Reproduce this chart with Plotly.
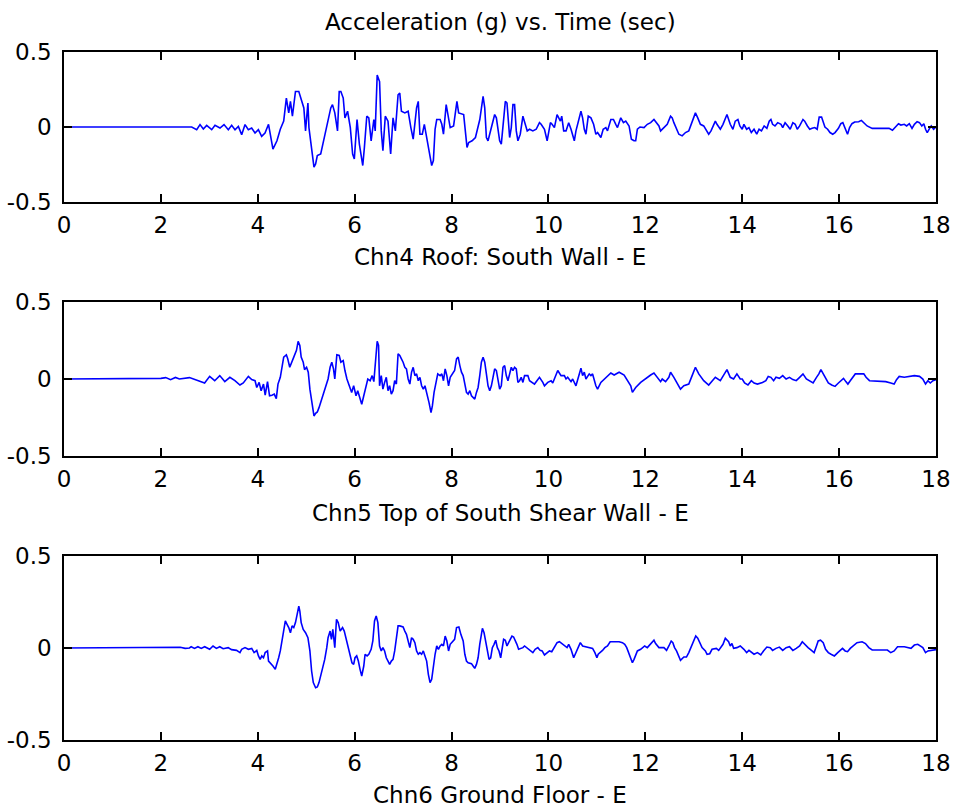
import plotly.graph_objects as go

# ---------------- data ----------------
x_ticks = [0, 2, 4, 6, 8, 10, 12, 14, 16, 18]
y_ticks = [-0.5, 0, 0.5]
y_tick_text = ["-0.5", "0", "0.5"]

main_title = "Acceleration (g) vs. Time (sec)"
channel_labels = ["Chn4 Roof: South Wall - E",
                  "Chn5 Top of South Shear Wall - E",
                  "Chn6 Ground Floor - E"]

t_ch4 = [0, 2.636, 2.739, 2.808, 2.876, 2.945, 3.049, 3.117, 3.220, 3.303, 3.392, 3.461, 3.530, 3.599, 3.668, 3.737, 3.805, 3.874, 3.943, 4.012, 4.080, 4.149,
         4.222, 4.313, 4.396, 4.465, 4.535, 4.590, 4.639, 4.674, 4.715, 4.778, 4.847, 4.882, 4.951, 4.986, 5.035, 5.056, 5.111, 5.160, 5.194, 5.229,
         5.299, 5.368, 5.438, 5.507, 5.542, 5.590, 5.646, 5.681, 5.715, 5.764, 5.799, 5.854, 5.910, 5.958, 5.993, 6.049, 6.097, 6.167, 6.201, 6.250,
         6.292, 6.340, 6.396, 6.424, 6.465, 6.514, 6.549, 6.583, 6.632, 6.688, 6.743, 6.792, 6.840, 6.896, 6.931, 6.965, 7.035, 7.104, 7.160, 7.208,
         7.278, 7.313, 7.347, 7.396, 7.438, 7.486, 7.535, 7.590, 7.625, 7.660, 7.694, 7.764, 7.799, 7.833, 7.889, 7.938, 7.972, 8.042, 8.111, 8.146,
         8.250, 8.319, 8.354, 8.424, 8.493, 8.583,
         8.651, 8.685, 8.719, 8.753, 8.808, 8.856, 8.890, 8.925, 8.959, 8.993, 9.027, 9.062, 9.110, 9.144, 9.164, 9.199, 9.233, 9.267, 9.301, 9.336,
         9.370, 9.418, 9.473, 9.507, 9.562, 9.610, 9.678, 9.747, 9.815, 9.849, 9.884, 9.918, 9.973, 10.000, 10.041, 10.075, 10.123, 10.178, 10.212, 10.247,
         10.274, 10.315, 10.363, 10.418, 10.466, 10.500, 10.534, 10.568, 10.616, 10.671, 10.705, 10.740, 10.774, 10.822, 10.877, 10.932, 10.979, 11.014, 11.082, 11.130,
         11.185, 11.219, 11.288, 11.342, 11.390, 11.425, 11.493, 11.548, 11.596, 11.664, 11.712, 11.767, 11.801, 11.836, 11.890, 11.973, 12.041, 12.110, 12.178, 12.233,
         12.281, 12.315, 12.384, 12.452, 12.521, 12.555, 12.589, 12.644, 12.692, 12.760, 12.829, 12.897, 12.932, 12.979, 13.034, 13.082, 13.137, 13.205, 13.240, 13.308,
         13.356, 13.411, 13.445, 13.479, 13.548, 13.603, 13.651, 13.685, 13.753, 13.808, 13.856, 13.911,
         13.951, 14.000, 14.035, 14.091, 14.139, 14.188, 14.244, 14.300, 14.348, 14.397, 14.453, 14.509, 14.557, 14.592, 14.627, 14.676, 14.732, 14.801, 14.836, 14.885,
         14.941, 14.990, 15.045, 15.094, 15.136, 15.185, 15.254, 15.289, 15.345, 15.394, 15.443, 15.498, 15.547, 15.589, 15.638, 15.672, 15.707, 15.763, 15.812, 15.868,
         15.916, 15.986, 16.035, 16.077, 16.125, 16.174, 16.216, 16.265, 16.321, 16.404, 16.460, 16.509, 16.578, 16.683, 17.031, 17.101, 17.171, 17.226, 17.275, 17.345,
         17.394, 17.449, 17.505, 17.554, 17.610, 17.659, 17.707, 17.749, 17.784, 17.819, 17.868, 17.902, 17.951, 18.0]
acc_ch4 = [0, 0, -0.018, 0.016, -0.013, 0.011, -0.018, 0.011, -0.007, 0.016, -0.018, 0.011, -0.018, 0.004, -0.051, 0.016, -0.018, -0.007, -0.040, -0.018, -0.062, -0.040,
           0.018, -0.147, -0.092, -0.015, 0.039, 0.193, 0.094, 0.171, 0.072, 0.237, 0.237, 0.204, 0.127, -0.026, 0.160, -0.004, -0.136, -0.268, -0.246, -0.191,
           -0.180, -0.070, 0.039, 0.127, 0.149, 0.094, -0.026, 0.237, 0.237, 0.193, 0.061, 0.105, -0.004, -0.180, -0.213, 0.050, -0.114, -0.257, -0.136, 0.072,
           0.061, -0.092, 0.050, -0.026, 0.346, 0.303, -0.026, -0.158, 0.072, 0.039, -0.180, 0.061, -0.026, 0.215, 0.226, 0.105, 0.094, 0.105, -0.004, -0.081,
           0.127, 0.171, -0.048, -0.048, 0.018, -0.070, -0.158, -0.257, -0.224, -0.015, 0.050, 0.050, 0.018, -0.048, 0.149, 0.050, -0.004, 0.007, 0.171, 0.094,
           0.083, -0.136, -0.103, -0.092, -0.070, 0.050,
           0.204, 0.127, -0.070, -0.092, -0.026, 0.039, 0.083, 0.061, -0.004, -0.092, -0.114, -0.004, 0.171, 0.160, 0.061, -0.070, -0.004, 0.149, 0.149, -0.026,
           -0.092, -0.048, 0.072, 0.039, -0.026, -0.015, -0.026, -0.015, 0.029, 0.018, -0.004, -0.015, -0.092, -0.048, 0.029, 0.018, -0.004, 0.083, 0.061, 0.039,
           0.072, -0.026, -0.026, 0.029, -0.015, -0.059, -0.092, -0.026, 0.039, 0.105, 0.061, -0.015, -0.048, 0.072, 0.061, 0.018, -0.048, -0.037, -0.070, -0.015,
           -0.004, -0.026, 0.050, 0.050, 0.018, -0.004, 0.061, 0.029, 0.039, 0.007, -0.081, -0.092, -0.092, -0.015, 0.000, -0.004, 0.018, 0.029, 0.050, 0.029,
           0.007, -0.026, 0.000, 0.018, 0.072, 0.061, 0.029, -0.015, -0.048, -0.059, -0.037, -0.026, 0.007, 0.050, 0.094, 0.061, 0.018, 0.007, -0.015, -0.048,
           -0.026, 0.018, 0.039, 0.018, -0.015, 0.018, 0.061, 0.083, 0.018, -0.015, 0.039, 0.050,
           0.007, -0.015, 0.018, -0.015, -0.004, -0.037, -0.015, -0.048, -0.015, -0.026, 0.007, -0.009, 0.039, 0.050, 0.018, 0.007, 0.029, 0.018, -0.004, 0.029,
           0.007, -0.015, 0.029, 0.018, -0.015, 0.007, 0.050, 0.039, 0.007, -0.015, -0.009, -0.004, -0.015, 0.066, 0.066, 0.039, 0.000, -0.015, -0.037, -0.048,
           -0.037, -0.009, 0.022, 0.029, -0.015, -0.048, -0.004, 0.022, 0.033, 0.035, 0.044, 0.029, 0.007, -0.009, -0.009, -0.022, 0.000, 0.022, 0.013, 0.018,
           0.007, 0.022, -0.009, 0.018, 0.035, 0.029, 0.007, 0.022, -0.015, -0.037, -0.009, 0.007, -0.015, 0.0]

t_ch5 = [0, 1.0, 1.02, 2.0, 2.1, 2.2, 2.3,
         2.382, 2.590, 2.799, 2.903, 3.007, 3.111, 3.215, 3.319, 3.424, 3.528, 3.632, 3.701, 3.806, 3.875, 3.944, 3.979, 4.028, 4.069, 4.118, 4.153,
         4.201, 4.243, 4.292, 4.340, 4.382, 4.417, 4.465, 4.500, 4.535, 4.590, 4.618, 4.660, 4.708, 4.743, 4.799, 4.833, 4.868, 4.896, 4.938, 4.965,
         5.007, 5.042, 5.076, 5.111, 5.160, 5.194, 5.229, 5.264, 5.299, 5.354, 5.403, 5.451, 5.493, 5.528, 5.563, 5.590, 5.632, 5.681, 5.715, 5.764,
         5.799, 5.840, 5.889, 5.938, 5.979, 6.028, 6.063, 6.097, 6.146, 6.188, 6.236, 6.271, 6.319, 6.361, 6.396, 6.431, 6.465, 6.493, 6.514, 6.549,
         6.583, 6.618, 6.653, 6.688, 6.722, 6.757, 6.792, 6.826, 6.861, 6.896, 6.931, 6.965, 7.000, 7.035, 7.069, 7.104, 7.139, 7.174, 7.208, 7.243,
         7.278, 7.313, 7.347, 7.382, 7.417, 7.451, 7.486, 7.535, 7.576, 7.604, 7.639, 7.674, 7.715, 7.764, 7.799, 7.833, 7.868, 7.903, 7.938, 7.972,
         8.021, 8.063,
         8.103, 8.137, 8.171, 8.205, 8.240, 8.274, 8.308, 8.342, 8.377, 8.411, 8.445, 8.479, 8.514, 8.548, 8.582, 8.616, 8.651, 8.685, 8.719, 8.753,
         8.788, 8.822, 8.856, 8.890, 8.925, 8.959, 8.993, 9.027, 9.062, 9.096, 9.130, 9.164, 9.199, 9.233, 9.267, 9.301, 9.336, 9.370, 9.404, 9.438,
         9.473, 9.507, 9.575, 9.610, 9.712, 9.781, 9.815, 9.884, 9.918, 9.986, 10.055, 10.089, 10.158, 10.192, 10.260, 10.329, 10.363, 10.397, 10.466, 10.500,
         10.568, 10.637, 10.671, 10.705, 10.740, 10.774, 10.842, 10.877, 10.911, 10.979, 11.014, 11.082, 11.185, 11.288, 11.356, 11.459, 11.562, 11.630, 11.699, 11.733,
         11.801, 11.904, 12.007, 12.110, 12.178, 12.247, 12.315, 12.349, 12.418, 12.486, 12.521, 12.589, 12.658, 12.726, 12.795, 12.897, 12.966, 13.034, 13.103, 13.205,
         13.308, 13.377, 13.445, 13.548, 13.616, 13.685, 13.753, 13.822, 13.890, 13.959,
         14.000, 14.049, 14.118, 14.188, 14.244, 14.314, 14.418, 14.488, 14.537, 14.592, 14.648, 14.697, 14.767, 14.836, 14.906, 14.976, 15.045, 15.115, 15.185, 15.254,
         15.324, 15.394, 15.463, 15.533, 15.582, 15.624, 15.672, 15.721, 15.777, 15.847, 15.916, 15.986, 16.042, 16.091, 16.139, 16.181, 16.230, 16.279, 16.334, 16.509,
         16.557, 16.627, 16.822, 16.962, 17.066, 17.136, 17.185, 17.240, 17.345, 17.449, 17.554, 17.659, 17.728, 17.784, 17.833, 17.882, 17.937, 18.000]
acc_ch5 = [0, 0, 0.004, 0.004, 0.009, -0.004, 0.010,
           0, 0.009, -0.017, -0.026, 0.017, -0.011, 0.022, -0.017, 0.011, -0.011, -0.039, -0.026, 0.017, -0.004, -0.011, -0.055, -0.022, -0.076, -0.033, -0.105,
           -0.017, -0.109, -0.105, -0.098, -0.127, -0.033, 0.011, 0.076, 0.142, 0.157, 0.131, 0.076, 0.120, 0.142, 0.186, 0.245, 0.218, 0.142, 0.109, 0.061,
           0.076, 0.044, -0.066, -0.153, -0.240, -0.223, -0.214, -0.186, -0.153, -0.098, -0.055, 0, 0.076, 0.109, 0.066, 0, 0.157, 0.153, 0.109, 0.120,
           0.055, 0, -0.044, -0.087, -0.044, -0.109, -0.076, -0.120, -0.164, -0.109, -0.033, 0, -0.011, 0.022, -0.017, 0.109, 0.245, 0.218, -0.044, 0.022,
           -0.066, -0.022, 0.011, -0.076, -0.044, -0.098, -0.076, -0.011, -0.033, 0.164, 0.153, 0.131, 0.109, 0.076, 0.066, 0, -0.033, 0.044, 0.076, 0.022,
           0.033, -0.011, 0.011, -0.044, -0.066, -0.044, -0.087, -0.153, -0.218, -0.175, -0.087, -0.022, 0.033, 0.022, 0.033, -0.011, 0.066, 0.022, -0.044, 0.011,
           0.033, 0.055,
           0.131, 0.142, 0.087, 0.044, 0.022, -0.033, -0.087, -0.098, -0.076, -0.109, -0.120, -0.131, -0.087, -0.055, 0.022, 0.109, 0.142, 0.109, 0.033, -0.044,
           -0.076, -0.044, 0.011, 0.066, 0.055, 0, -0.066, -0.044, 0.076, 0.087, 0.022, -0.011, 0.044, 0.076, 0.055, 0.076, 0.066, -0.022, -0.011, 0.011,
           -0.022, 0.022, 0.022, -0.011, -0.033, -0.004, 0.011, -0.022, -0.044, -0.022, -0.011, -0.026, 0.022, 0.055, 0.022, 0.022, 0, 0.011, -0.017, 0,
           -0.044, 0.022, 0.070, 0.022, 0.044, 0, 0.033, 0.022, 0.033, -0.044, -0.066, -0.022, 0.011, 0.039, 0.026, 0.044, 0.026, -0.011, -0.044, -0.087,
           -0.055, -0.022, 0.004, 0.026, 0.039, 0.011, -0.017, 0, -0.017, 0.011, 0.044, 0.011, -0.033, -0.066, -0.044, -0.033, 0.022, 0.076, 0.033, -0.011,
           -0.039, -0.017, 0.011, -0.011, 0.022, 0.061, 0.011, 0, 0.033, 0,
           0, -0.026, -0.039, -0.011, -0.026, -0.033, -0.022, -0.011, 0.017, 0.011, -0.011, 0.011, 0.004, 0.022, 0, 0.011, -0.004, -0.011, 0.011, 0.033,
           0, -0.011, -0.026, 0.011, 0.033, 0.061, 0.033, 0, -0.026, -0.039, -0.048, -0.026, -0.011, 0.004, -0.017, -0.033, -0.011, 0.011, 0.033, 0.033,
           0.011, -0.011, -0.017, -0.017, -0.026, -0.033, -0.004, 0.017, 0.011, 0.017, 0.022, 0.017, 0, -0.033, -0.011, -0.026, -0.011, -0.004]

t_ch6 = [0, 2.3, 2.4, 2.5, 2.590,
         2.625, 2.694, 2.764, 2.833, 2.903, 3.007, 3.076, 3.146, 3.215, 3.285, 3.389, 3.458, 3.563, 3.632, 3.667, 3.736, 3.806, 3.875, 3.924, 3.979,
         4.014, 4.049, 4.083, 4.118, 4.153, 4.201, 4.222, 4.257, 4.313, 4.361, 4.396, 4.431, 4.465, 4.500, 4.535, 4.569, 4.604, 4.639, 4.674, 4.708,
         4.743, 4.778, 4.813, 4.847, 4.868, 4.896, 4.938, 4.986, 5.035, 5.076, 5.111, 5.146, 5.194, 5.229, 5.264, 5.299, 5.333, 5.382, 5.424, 5.451,
         5.493, 5.521, 5.549, 5.590, 5.625, 5.660, 5.701, 5.750, 5.785, 5.819, 5.854, 5.910, 5.944, 5.979, 6.007, 6.042, 6.076, 6.111, 6.146, 6.188,
         6.215, 6.257, 6.292, 6.340, 6.375, 6.410, 6.444, 6.479, 6.514, 6.549, 6.583, 6.618, 6.653, 6.688, 6.722, 6.757, 6.792, 6.826, 6.861, 6.896,
         6.931, 7.000, 7.035, 7.069, 7.104, 7.139, 7.174, 7.208, 7.243, 7.278, 7.313, 7.347, 7.382, 7.417, 7.451, 7.486, 7.521, 7.556, 7.590, 7.625,
         7.660, 7.694, 7.729, 7.764, 7.799, 7.833, 7.868, 7.903, 7.938, 7.972, 8.007, 8.063,
         8.103, 8.151, 8.192, 8.219, 8.240, 8.274, 8.308, 8.342, 8.411, 8.445, 8.479, 8.514, 8.548, 8.582, 8.616, 8.637, 8.671, 8.699, 8.740, 8.774,
         8.808, 8.842, 8.877, 8.911, 8.945, 8.979, 9.014, 9.048, 9.075, 9.110, 9.144, 9.178, 9.212, 9.247, 9.281, 9.315, 9.349, 9.384, 9.473, 9.507,
         9.575, 9.630, 9.678, 9.726, 9.781, 9.829, 9.870, 9.918, 9.973, 10.021, 10.068, 10.123, 10.178, 10.226, 10.274, 10.329, 10.384, 10.418, 10.466, 10.521,
         10.568, 10.616, 10.658, 10.705, 10.808, 10.911, 10.959, 11.000, 11.027, 11.068, 11.116, 11.164, 11.219, 11.274, 11.459, 11.527, 11.575, 11.616, 11.651, 11.685,
         11.733, 11.767, 11.801, 11.836, 11.904, 11.986, 12.041, 12.075, 12.123, 12.178, 12.212, 12.281, 12.384, 12.438, 12.486, 12.534, 12.568, 12.603, 12.644, 12.692,
         12.726, 12.795, 12.849, 12.897, 12.966, 13.000, 13.041, 13.082, 13.123, 13.171, 13.240, 13.274, 13.329, 13.377, 13.466, 13.514, 13.603, 13.651, 13.719, 13.753,
         13.788, 13.822, 13.890, 13.959,
         14.035, 14.091, 14.139, 14.188, 14.244, 14.314, 14.383, 14.439, 14.509, 14.578, 14.627, 14.697, 14.767, 14.836, 14.906, 14.976, 15.045, 15.115, 15.185, 15.240,
         15.289, 15.359, 15.429, 15.484, 15.533, 15.568, 15.617, 15.672, 15.721, 15.777, 15.833, 15.902, 15.972, 16.021, 16.070, 16.125, 16.174, 16.230, 16.300, 16.369,
         16.474, 16.544, 16.613, 16.683, 16.997, 17.066, 17.136, 17.206, 17.345, 17.484, 17.554, 17.624, 17.728, 17.784, 17.833, 17.902, 18.000]
acc_ch6 = [0, 0, 0.004, -0.002, 0,
           0.007, -0.002, 0.007, -0.002, 0.007, -0.007, 0.011, -0.002, 0.007, -0.004, 0.002, -0.009, -0.013, -0.025, -0.007, 0.002, -0.007, -0.002, -0.025, -0.013,
           -0.043, -0.062, -0.043, -0.053, -0.025, -0.016, -0.071, -0.080, -0.098, -0.116, -0.089, -0.053, -0.016, 0.038, 0.111, 0.147, 0.129, 0.111, 0.083, 0.120,
           0.111, 0.138, 0.183, 0.228, 0.201, 0.138, 0.101, 0.083, 0.056, -0.016, -0.125, -0.188, -0.216, -0.212, -0.188, -0.152, -0.107, -0.062, 0.002, 0.056,
           0.092, 0.047, 0.101, 0.002, 0.156, 0.138, 0.092, 0.111, 0.092, 0.056, 0.011, -0.034, -0.080, -0.089, -0.053, -0.043, -0.071, -0.116, -0.152, -0.098,
           -0.034, -0.043, -0.034, -0.007, 0.038, 0.147, 0.174, 0.138, 0.011, -0.016, 0.002, -0.016, -0.053, -0.071, -0.089, -0.071, -0.062, -0.016, 0.047, 0.120,
           0.120, 0.114, 0.092, 0.074, 0.038, 0.002, 0.056, 0.047, 0.029, -0.016, -0.034, -0.025, -0.034, -0.016, -0.043, -0.071, -0.143, -0.188, -0.170, -0.098,
           -0.034, 0.011, -0.007, 0.011, 0.020, 0.011, 0.065, 0.038, -0.016, 0.020, 0.029, 0.047,
           0.111, 0.114, 0.074, 0.056, 0.038, -0.034, -0.071, -0.080, -0.085, -0.098, -0.111, -0.089, -0.053, 0.020, 0.074, 0.107, 0.083, 0.038, -0.016, -0.062,
           -0.053, 0.002, 0.020, 0.042, 0.002, -0.016, -0.053, -0.007, 0.047, 0.042, 0.011, 0.029, 0.047, 0.065, 0.060, 0.042, 0.020, -0.007, 0.002, 0.011,
           -0.002, -0.013, -0.025, -0.007, 0.002, -0.013, -0.016, -0.038, -0.025, -0.016, -0.020, 0.002, 0.029, 0.034, 0.024, 0.011, 0.002, 0.020, -0.007, -0.053,
           -0.025, 0.011, 0.029, 0.011, 0.005, -0.002, -0.025, -0.053, -0.034, -0.025, -0.013, 0.002, 0.011, 0.034, 0.034, 0.029, 0.020, 0.002, -0.025, -0.053,
           -0.080, -0.062, -0.034, -0.016, -0.007, 0.011, 0.002, 0.011, 0.029, 0.042, 0.024, 0.002, 0.002, -0.013, 0.011, 0.038, 0.029, 0.002, -0.016, -0.053,
           -0.067, -0.049, -0.049, -0.025, 0.020, 0.042, 0.065, 0.053, 0.029, 0.002, -0.016, -0.034, -0.031, -0.007, -0.002, -0.013, 0.020, 0.053, 0.034, 0.011,
           0.024, -0.002, 0.002, 0.011,
           -0.007, -0.025, -0.013, -0.025, -0.034, -0.025, -0.038, -0.016, 0.005, 0.002, -0.013, -0.002, 0.005, -0.013, 0.002, 0.007, -0.013, -0.002, 0.011, 0.034,
           0.020, 0.002, -0.013, -0.025, 0.011, 0.038, 0.042, 0.029, -0.007, -0.025, -0.034, -0.043, -0.025, -0.013, -0.002, -0.016, -0.020, -0.002, 0.016, 0.029,
           0.034, 0.024, 0.002, -0.011, -0.011, -0.025, -0.016, 0.007, 0.007, -0.002, 0.016, 0.020, 0.002, -0.025, -0.016, -0.013, -0.009]

# ---------------- figure ----------------
FONT = "DejaVu Sans"
W, H = 953, 811
M_L, M_R, M_T, M_B = 64, 17, 52, 71
plot_h = H - M_T - M_B

def py(pix):
    """pixel row -> paper coordinate"""
    return (H - M_B - pix) / plot_h

domains = [[py(202), 1.0], [py(456), py(302)], [0.0, py(556)]]
series = [(t_ch4, acc_ch4), (t_ch5, acc_ch5), (t_ch6, acc_ch6)]

fig = go.Figure()
layout = dict(
    template="none",
    width=W, height=H, autosize=False,
    margin=dict(l=M_L, r=M_R, t=M_T, b=M_B, pad=0),
    paper_bgcolor="white", plot_bgcolor="white",
    font=dict(family=FONT, size=23, color="black"),
    showlegend=False,
)

for i, ((t, a), dom) in enumerate(zip(series, domains)):
    assert len(t) == len(a), (i, len(t), len(a))
    sfx = "" if i == 0 else str(i + 1)
    fig.add_trace(go.Scatter(x=t, y=a, mode="lines",
                             line=dict(color="#0000FF", width=1.6),
                             xaxis="x" + sfx, yaxis="y" + sfx,
                             hoverinfo="skip"))
    common = dict(showline=True, linecolor="black", linewidth=1.5, mirror="ticks",
                  ticks="inside", ticklen=8, tickwidth=1.5, tickcolor="black",
                  showgrid=False, zeroline=False, automargin=False,
                  tickfont=dict(family=FONT, size=23, color="black"))
    layout["xaxis" + sfx] = dict(common, range=[0, 18], tickvals=x_ticks,
                                 anchor="y" + sfx, domain=[0, 1],
                                 ticklabelstandoff=2)
    layout["yaxis" + sfx] = dict(common, range=[-0.5, 0.5], tickvals=y_ticks,
                                 ticktext=y_tick_text, anchor="x" + sfx, domain=dom,
                                 ticklabelstandoff=6)

annotations = [dict(text=main_title, x=0.5, y=py(22), xref="paper", yref="paper",
                    xanchor="center", yanchor="middle", showarrow=False,
                    font=dict(family=FONT, size=23, color="black"))]
label_rows = [257, 513, 795]
for lab, row in zip(channel_labels, label_rows):
    annotations.append(dict(text=lab, x=0.5, y=py(row), xref="paper", yref="paper",
                            xanchor="center", yanchor="middle", showarrow=False,
                            font=dict(family=FONT, size=23, color="black")))
layout["annotations"] = annotations

fig.update_layout(**layout)
fig.write_html("out.html")
